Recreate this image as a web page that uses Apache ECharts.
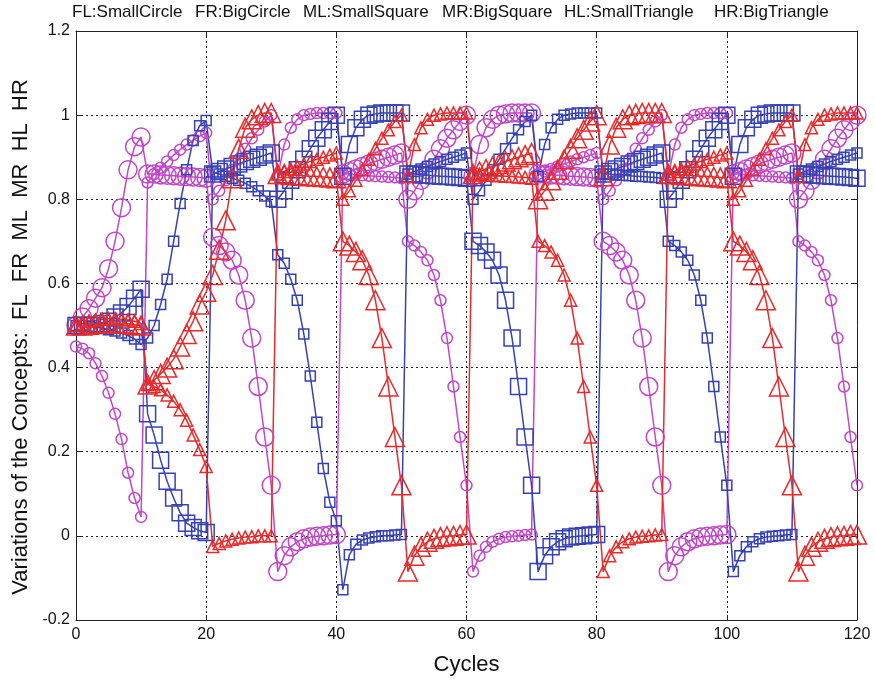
<!DOCTYPE html>
<html>
<head>
<meta charset="utf-8">
<script src="https://cdn.jsdelivr.net/npm/echarts@6/dist/echarts.min.js"></script>
<style>
html, body { margin: 0; padding: 0; background: #fff; }
#chart { width: 875px; height: 683px; }
</style>
</head>
<body>
<div id="chart"></div>
<script>
// concept labels shown above the plot
var conceptLabels = ['FL:SmallCircle', 'FR:BigCircle', 'ML:SmallSquare', 'MR:BigSquare', 'HL:SmallTriangle', 'HR:BigTriangle'];

// values per cycle 0..120
var fl = [
  0.45, 0.445, 0.434, 0.41, 0.38, 0.34, 0.29, 0.23, 0.15, 0.09, 0.045,
  0.84, 0.86, 0.875, 0.89, 0.905, 0.918, 0.93, 0.94, 0.95, 0.958,
  0.8, 0.82, 0.845, 0.87, 0.895, 0.92, 0.945, 0.965, 0.985, 1.0,
  0.855, 0.93, 0.97, 0.99, 1.0, 1.003, 1.005, 1.005, 1.005, 1.005,
  0.86, 0.86, 0.858, 0.857, 0.856, 0.855, 0.854, 0.853, 0.852, 0.85,
  0.70, 0.69, 0.675, 0.655, 0.62, 0.56, 0.47, 0.355, 0.235, 0.12,
  -0.085, -0.047, -0.026, -0.014, -0.007, -0.003, -0.001, 0, 0.002, 0.003,
  0.86, 0.866, 0.872, 0.878, 0.884, 0.89, 0.895, 0.9, 0.905, 0.91,
  0.8, 0.82, 0.845, 0.87, 0.895, 0.92, 0.945, 0.965, 0.985, 1.0,
  0.855, 0.93, 0.97, 0.99, 1.0, 1.003, 1.005, 1.005, 1.005, 1.005,
  0.86, 0.86, 0.858, 0.857, 0.856, 0.855, 0.854, 0.853, 0.852, 0.85,
  0.70, 0.69, 0.675, 0.655, 0.62, 0.56, 0.47, 0.355, 0.235, 0.12
];
var fr = [
  0.5, 0.52, 0.54, 0.565, 0.59, 0.635, 0.70, 0.78, 0.87, 0.925, 0.948,
  0.86, 0.86, 0.858, 0.857, 0.856, 0.855, 0.854, 0.853, 0.852, 0.85,
  0.71, 0.69, 0.675, 0.655, 0.62, 0.56, 0.47, 0.355, 0.235, 0.12,
  -0.085, -0.047, -0.026, -0.014, -0.007, -0.003, -0.001, 0, 0.002, 0.003,
  0.86, 0.866, 0.872, 0.878, 0.884, 0.89, 0.895, 0.9, 0.905, 0.91,
  0.8, 0.82, 0.845, 0.87, 0.895, 0.92, 0.945, 0.965, 0.985, 1.0,
  0.855, 0.93, 0.97, 0.99, 1.0, 1.003, 1.005, 1.005, 1.005, 1.005,
  0.86, 0.86, 0.858, 0.857, 0.856, 0.855, 0.854, 0.853, 0.852, 0.85,
  0.70, 0.69, 0.675, 0.655, 0.62, 0.56, 0.47, 0.355, 0.235, 0.12,
  -0.085, -0.047, -0.026, -0.014, -0.007, -0.003, -0.001, 0, 0.002, 0.003,
  0.86, 0.866, 0.872, 0.878, 0.884, 0.89, 0.895, 0.9, 0.905, 0.91,
  0.8, 0.82, 0.845, 0.87, 0.895, 0.92, 0.945, 0.965, 0.985, 1.0
];
var ml = [
  0.5, 0.5, 0.498, 0.496, 0.494, 0.49, 0.487, 0.482, 0.476, 0.468, 0.455,
  0.47, 0.50, 0.55, 0.61, 0.70, 0.79, 0.87, 0.94, 0.975, 0.987,
  0.865, 0.86, 0.855, 0.85, 0.845, 0.838, 0.83, 0.82, 0.808, 0.795,
  0.668, 0.648, 0.61, 0.56, 0.48, 0.38, 0.27, 0.16, 0.08, 0.036,
  -0.128, -0.045, -0.02, -0.01, -0.005, -0.002, 0, 0, 0.002, 0.003,
  0.86, 0.866, 0.872, 0.878, 0.884, 0.89, 0.895, 0.9, 0.905, 0.91,
  0.8, 0.82, 0.845, 0.87, 0.895, 0.92, 0.945, 0.965, 0.985, 1.0,
  0.855, 0.93, 0.97, 0.99, 1.0, 1.003, 1.005, 1.005, 1.005, 1.005,
  0.86, 0.86, 0.858, 0.857, 0.856, 0.855, 0.854, 0.853, 0.852, 0.85,
  0.70, 0.69, 0.675, 0.655, 0.62, 0.56, 0.47, 0.355, 0.235, 0.12,
  -0.085, -0.047, -0.026, -0.014, -0.007, -0.003, -0.001, 0, 0.002, 0.003,
  0.86, 0.866, 0.872, 0.878, 0.884, 0.89, 0.895, 0.9, 0.905, 0.91
];
var mr = [
  0.5, 0.5, 0.5, 0.5, 0.505, 0.51, 0.52, 0.53, 0.545, 0.565, 0.586,
  0.29, 0.24, 0.18, 0.13, 0.09, 0.055, 0.03, 0.02, 0.012, 0.008,
  0.86, 0.866, 0.872, 0.878, 0.884, 0.89, 0.895, 0.9, 0.905, 0.91,
  0.8, 0.82, 0.845, 0.87, 0.895, 0.92, 0.945, 0.965, 0.985, 1.0,
  0.855, 0.93, 0.97, 0.99, 1.0, 1.003, 1.005, 1.005, 1.005, 1.005,
  0.86, 0.86, 0.858, 0.857, 0.856, 0.855, 0.854, 0.853, 0.852, 0.85,
  0.70, 0.69, 0.675, 0.655, 0.62, 0.56, 0.47, 0.355, 0.235, 0.12,
  -0.085, -0.047, -0.026, -0.014, -0.007, -0.003, -0.001, 0, 0.002, 0.003,
  0.86, 0.866, 0.872, 0.878, 0.884, 0.89, 0.895, 0.9, 0.905, 0.91,
  0.8, 0.82, 0.845, 0.87, 0.895, 0.92, 0.945, 0.965, 0.985, 1.0,
  0.855, 0.93, 0.97, 0.99, 1.0, 1.003, 1.005, 1.005, 1.005, 1.005,
  0.86, 0.86, 0.858, 0.857, 0.856, 0.855, 0.854, 0.853, 0.852, 0.85
];
var hl = [
  0.5, 0.505, 0.51, 0.512, 0.515, 0.516, 0.516, 0.515, 0.513, 0.51, 0.505,
  0.36, 0.355, 0.347, 0.335, 0.32, 0.30, 0.275, 0.24, 0.205, 0.165,
  -0.025, -0.018, -0.012, -0.008, -0.005, -0.003, -0.002, 0, 0, 0,
  0.86, 0.866, 0.872, 0.878, 0.884, 0.89, 0.895, 0.9, 0.905, 0.91,
  0.8, 0.82, 0.845, 0.87, 0.895, 0.92, 0.945, 0.965, 0.985, 1.0,
  0.855, 0.93, 0.97, 0.99, 1.0, 1.003, 1.005, 1.005, 1.005, 1.005,
  0.86, 0.86, 0.858, 0.857, 0.856, 0.855, 0.854, 0.853, 0.852, 0.85,
  0.70, 0.69, 0.675, 0.655, 0.62, 0.56, 0.47, 0.355, 0.235, 0.12,
  -0.085, -0.047, -0.026, -0.014, -0.007, -0.003, -0.001, 0, 0.002, 0.003,
  0.86, 0.866, 0.872, 0.878, 0.884, 0.89, 0.895, 0.9, 0.905, 0.91,
  0.8, 0.82, 0.845, 0.87, 0.895, 0.92, 0.945, 0.965, 0.985, 1.0,
  0.855, 0.93, 0.97, 0.99, 1.0, 1.003, 1.005, 1.005, 1.005, 1.005
];
var hr = [
  0.5, 0.5, 0.502, 0.504, 0.505, 0.506, 0.506, 0.505, 0.504, 0.502, 0.5,
  0.36, 0.37, 0.385, 0.40, 0.42, 0.45, 0.48, 0.51, 0.55, 0.58,
  0.62, 0.68, 0.75, 0.85, 0.92, 0.97, 0.99, 1.0, 1.005, 1.005,
  0.86, 0.86, 0.858, 0.857, 0.856, 0.855, 0.854, 0.853, 0.852, 0.85,
  0.70, 0.69, 0.675, 0.655, 0.62, 0.56, 0.47, 0.355, 0.235, 0.12,
  -0.085, -0.047, -0.026, -0.014, -0.007, -0.003, -0.001, 0, 0.002, 0.003,
  0.86, 0.866, 0.872, 0.878, 0.884, 0.89, 0.895, 0.9, 0.905, 0.91,
  0.8, 0.82, 0.845, 0.87, 0.895, 0.92, 0.945, 0.965, 0.985, 1.0,
  0.855, 0.93, 0.97, 0.99, 1.0, 1.003, 1.005, 1.005, 1.005, 1.005,
  0.86, 0.86, 0.858, 0.857, 0.856, 0.855, 0.854, 0.853, 0.852, 0.85,
  0.70, 0.69, 0.675, 0.655, 0.62, 0.56, 0.47, 0.355, 0.235, 0.12,
  -0.085, -0.047, -0.026, -0.014, -0.007, -0.003, -0.001, 0, 0.002, 0.003
];

var MAG = '#c246c8', BLU = '#3541b4', RED = '#e82a2a';
var FONT = 'Liberation Sans, Arial, sans-serif';

function pts(arr) {
  return arr.map(function (v, i) { return [i, v]; });
}

function line(name, data, symbol, size, color) {
  return {
    name: name,
    type: 'line',
    data: pts(data),
    symbol: symbol,
    symbolSize: size,
    showAllSymbol: true,
    itemStyle: { color: 'rgba(0,0,0,0)', borderColor: color, borderWidth: 1.5 },
    lineStyle: { color: color, width: 1.5 },
    emphasis: { disabled: true },
    z: 3
  };
}

var labelX = [72, 195, 303, 442, 564, 714];
var graphics = conceptLabels.map(function (t, i) {
  return {
    type: 'text', left: labelX[i], top: 4,
    style: { text: t, font: '17px ' + FONT, fill: '#111' }
  };
});
graphics.push({
  type: 'text', x: 21, y: 337, rotation: Math.PI / 2,
  style: {
    text: 'Variations of the Concepts:  FL  FR  ML  MR  HL  HR',
    font: '22px ' + FONT, fill: '#111', align: 'center', verticalAlign: 'middle'
  }
});

var gridLine = { show: true, lineStyle: { color: '#222', type: [2, 3], width: 1 } };
var frame = { show: true, onZero: false, lineStyle: { color: '#222', width: 1 } };
var tickIn = { show: true, inside: true, length: 5, lineStyle: { color: '#222' } };

var option = {
  animation: false,
  backgroundColor: '#fff',
  grid: { left: 76, right: 18, top: 31, bottom: 63 },
  graphic: graphics,
  xAxis: [{
    type: 'value', min: 0, max: 120, interval: 20,
    axisLine: frame, axisTick: tickIn, splitLine: gridLine,
    axisLabel: { color: '#111', fontSize: 16, fontFamily: FONT, margin: 7 },
    name: 'Cycles', nameLocation: 'middle', nameGap: 34,
    nameTextStyle: { color: '#111', fontSize: 22, fontFamily: FONT }
  }, {
    type: 'value', position: 'top', min: 0, max: 120, interval: 20,
    axisLine: frame, axisTick: tickIn, splitLine: { show: false },
    axisLabel: { show: false }
  }],
  yAxis: [{
    type: 'value', min: -0.2, max: 1.2, interval: 0.2,
    axisLine: frame, axisTick: tickIn, splitLine: gridLine,
    axisLabel: {
      color: '#111', fontSize: 16, fontFamily: FONT, margin: 6,
      formatter: function (v) { return String(+v.toFixed(1)); }
    }
  }, {
    type: 'value', position: 'right', min: -0.2, max: 1.2, interval: 0.2,
    axisLine: frame, axisTick: tickIn, splitLine: { show: false },
    axisLabel: { show: false }
  }],
  series: [
    line('FL', fl, 'circle', 11, MAG),
    line('FR', fr, 'circle', 18, MAG),
    line('ML', ml, 'rect', 10, BLU),
    line('MR', mr, 'rect', 16, BLU),
    line('HL', hl, 'triangle', 12, RED),
    line('HR', hr, 'triangle', 19, RED)
  ]
};

var chart = echarts.init(document.getElementById('chart'));
chart.setOption(option);
</script>
</body>
</html>
